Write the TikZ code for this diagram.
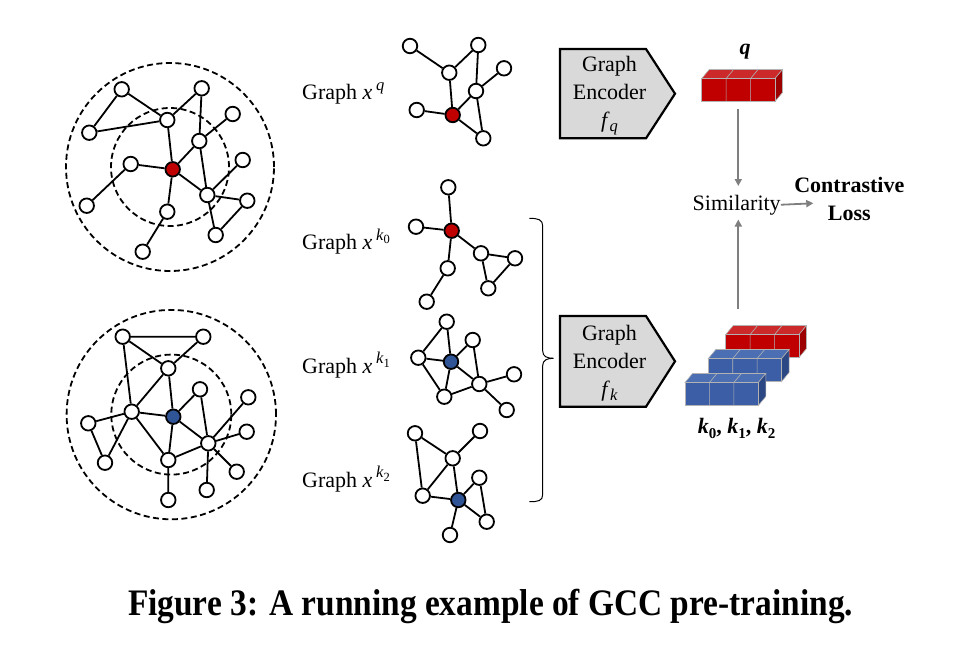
\documentclass[tikz,border=0pt]{standalone}
\usepackage{fontspec}
\setmainfont{Liberation Serif}
\usetikzlibrary{arrows.meta}
\definecolor{nred}{HTML}{C00000}
\definecolor{nblue}{HTML}{2F5597}
\definecolor{rfront}{HTML}{C00000}
\definecolor{rtop}{HTML}{CC2A2A}
\definecolor{rside}{HTML}{9C0000}
\definecolor{bfront}{HTML}{3B5EA6}
\definecolor{btop}{HTML}{4C6FB3}
\definecolor{bside}{HTML}{2C4884}
\definecolor{encgray}{HTML}{D9D9D9}
\definecolor{arrgray}{HTML}{7F7F7F}
\newcommand{\vecbar}[5]{%
  \begin{scope}[shift={(#1,#2)}]
    \filldraw[fill=#4, draw=black!30, line width=0.6pt] (0,0) -- (7.5,-9) -- (80.8,-9) -- (73.3,0) -- cycle;
    \filldraw[fill=#5, draw=black!30, line width=0.6pt] (73.3,0) -- (80.8,-9) -- (80.8,14) -- (73.3,23) -- cycle;
    \filldraw[fill=#3, draw=black!30, line width=0.6pt] (0,0) rectangle (73.3,23);
    \draw[black!30, line width=0.6pt] (24.43,23) -- (24.43,0) -- (31.93,-9)
      (48.87,23) -- (48.87,0) -- (56.37,-9);
  \end{scope}}
\newcommand{\supsz}{\fontsize{16.5}{16.5}\selectfont}
\newcommand{\subsz}{\fontsize{12.5}{12.5}\selectfont}
\newcommand{\gx}[1]{\textit{x}\,\raisebox{0.42em}{\supsz #1}}
\newcommand{\ksub}[1]{\textit{k}\raisebox{-0.22em}{\subsz #1}}
\newcommand{\fsub}[1]{\textit{f}\raisebox{-0.18em}{\supsz\textit{#1}}}
\newcommand{\bk}[1]{\textit{k}\raisebox{-0.25em}{\fontsize{15}{15}\selectfont #1}}
\begin{document}
\begin{tikzpicture}[x=1pt,y=-1pt,
  gn/.style={circle, draw=black, fill=white, line width=1.8pt, minimum size=14.5pt, inner sep=0pt},
  rn/.style={gn, fill=nred},
  bn/.style={gn, fill=nblue},
  ed/.style={line width=1.8pt},
  ring/.style={line width=1.8pt, dash pattern=on 6pt off 3.5pt},
  enc/.style={fill=encgray, draw=black, line width=2.2pt, line join=miter},
  lbl/.style={font=\fontsize{22}{29}\selectfont, inner sep=0pt},
  enctext/.style={font=\fontsize{22}{28}\selectfont, inner sep=0pt, align=center},
  garr/.style={draw=arrgray, line width=1.8pt, -{Triangle[length=7pt,width=7pt]}}
  ]
\useasboundingbox (0,0) rectangle (955,653);

% ---------- big graph 1 ----------
\draw[ring] (170,167) circle[radius=104pt];
\draw[ring] (170,167) circle[radius=59pt];
\node[gn] (a1) at (121.7,89.3) {};
\node[gn] (a2) at (201.7,88.3) {};
\node[gn] (a3) at (89.3,132.7) {};
\node[gn] (a4) at (167.3,120) {};
\node[gn] (a5) at (232.7,114) {};
\node[gn] (a6) at (199.3,141) {};
\node[gn] (a7) at (130.7,164) {};
\node[rn] (ar) at (172.7,169.3) {};
\node[gn] (a8) at (242.7,160) {};
\node[gn] (a9) at (207.3,195) {};
\node[gn] (a10) at (86.7,205.7) {};
\node[gn] (a11) at (167.3,211.7) {};
\node[gn] (a12) at (247.3,200.7) {};
\node[gn] (a13) at (215.7,235) {};
\node[gn] (a14) at (142.7,251.7) {};
\draw[ed] (a1)--(a3) (a1)--(a4) (a3)--(a4) (a4)--(a2) (a2)--(a6) (a4)--(ar)
  (a6)--(a5) (ar)--(a6) (ar)--(a7) (a7)--(a10) (ar)--(a9) (a6)--(a9)
  (a9)--(a8) (a9)--(a12) (a9)--(a13) (a12)--(a13) (ar)--(a11) (a11)--(a14);

% ---------- big graph 2 ----------
\draw[ring] (171.3,414.6) circle[radius=104.7pt];
\draw[ring] (171.3,414.6) circle[radius=60pt];
\node[gn] (b1) at (122.7,336.7) {};
\node[gn] (b2) at (203.3,336.7) {};
\node[gn] (b3) at (168.3,368.3) {};
\node[gn] (b4) at (200,389.3) {};
\node[gn] (b5) at (248.3,397.3) {};
\node[gn] (b6) at (131.7,411.7) {};
\node[bn] (bb) at (173.3,416.7) {};
\node[gn] (b7) at (88.3,423.3) {};
\node[gn] (b8) at (246.7,431.7) {};
\node[gn] (b9) at (208.3,443.3) {};
\node[gn] (b10) at (105,462.7) {};
\node[gn] (b11) at (168.3,460) {};
\node[gn] (b12) at (236.7,471.7) {};
\node[gn] (b13) at (206.7,490) {};
\node[gn] (b14) at (168.3,500) {};
\draw[ed] (b1)--(b2) (b1)--(b3) (b2)--(b3) (b1)--(b6) (b3)--(b6) (b3)--(bb)
  (b6)--(b7) (b7)--(b10) (b6)--(b10) (b6)--(bb) (b6)--(b11) (bb)--(b4)
  (bb)--(b11) (bb)--(b9) (b4)--(b9) (b9)--(b5) (b9)--(b8) (b9)--(b12)
  (b9)--(b13) (b11)--(b9) (b11)--(b14);

% ---------- graph x^q ----------
\node[gn] (q1) at (410,46) {};
\node[gn] (q2) at (478.3,45) {};
\node[gn] (q3) at (449.3,72.7) {};
\node[gn] (q4) at (504,68.3) {};
\node[gn] (q5) at (476,91) {};
\node[gn] (q6) at (416.7,110) {};
\node[rn] (qr) at (452.7,115) {};
\node[gn] (q7) at (483.3,138.3) {};
\draw[ed] (q1)--(q3) (q2)--(q3) (q2)--(q5) (q4)--(q5) (q3)--(qr) (q5)--(qr)
  (q6)--(qr) (qr)--(q7) (q5)--(q7);

% ---------- graph x^k0 ----------
\node[gn] (c1) at (448.3,187.3) {};
\node[gn] (c2) at (416,226.7) {};
\node[rn] (cr) at (451.7,230.7) {};
\node[gn] (c3) at (481,253.3) {};
\node[gn] (c4) at (515,258.3) {};
\node[gn] (c5) at (447.7,268.3) {};
\node[gn] (c6) at (488.3,288.3) {};
\node[gn] (c7) at (426.7,301.7) {};
\draw[ed] (c1)--(cr) (c2)--(cr) (cr)--(c3) (cr)--(c5) (c3)--(c4) (c3)--(c6)
  (c4)--(c6) (c5)--(c7);

% ---------- graph x^k1 ----------
\node[gn] (d1) at (446.7,321.7) {};
\node[gn] (d2) at (472.7,340) {};
\node[gn] (d3) at (418.3,357.7) {};
\node[bn] (db) at (451,361.7) {};
\node[gn] (d4) at (514,374.3) {};
\node[gn] (d5) at (479.3,384) {};
\node[gn] (d6) at (444.3,396.7) {};
\node[gn] (d7) at (506.7,410) {};
\draw[ed] (d1)--(d3) (d1)--(db) (d3)--(db) (d3)--(d6) (db)--(d6) (db)--(d5)
  (db)--(d2) (d2)--(d5) (d6)--(d5) (d5)--(d4) (d5)--(d7);

% ---------- graph x^k2 ----------
\node[gn] (e1) at (415,433.3) {};
\node[gn] (e2) at (480,431) {};
\node[gn] (e3) at (452.7,458.3) {};
\node[gn] (e4) at (479.3,477.7) {};
\node[gn] (e5) at (422.7,495.7) {};
\node[bn] (eb) at (458.3,500) {};
\node[gn] (e6) at (486.7,521.7) {};
\node[gn] (e7) at (450,535) {};
\draw[ed] (e1)--(e3) (e1)--(e5) (e3)--(e2) (e3)--(e5) (e3)--(eb) (e5)--(eb)
  (eb)--(e4) (e4)--(e6) (eb)--(e6) (eb)--(e7);

% ---------- graph labels ----------
\node[lbl, anchor=base west] (lq) at (302,99.3) {Graph \gx{\textit{q}}};
\node[lbl, anchor=base west] (lk0) at (302,249.3) {Graph \gx{\ksub{0}}};
\node[lbl, anchor=base west] (lk1) at (302,373) {Graph \gx{\ksub{1}}};
\node[lbl, anchor=base west] (lk2) at (302,487) {Graph \gx{\ksub{2}}};

% ---------- brace ----------
\draw[line width=1pt] (529.3,218.3) .. controls (538,218.3) and (542.7,219.5) .. (542.7,226)
  -- (542.7,351) .. controls (542.7,356.5) and (547,358.3) .. (553.3,358.3);
\draw[line width=1pt] (553.3,358.3) .. controls (547,358.3) and (542.7,360.1) .. (542.7,365.6)
  -- (542.7,494.5) .. controls (542.7,501) and (538,501.7) .. (529.3,501.7);

% ---------- encoders ----------
\draw[enc] (560,49) -- (646,49) -- (675,93.7) -- (646,138.3) -- (560,138.3) -- cycle;
\node[enctext] (encq) at (609.5,96) {Graph\\Encoder\\\fsub{q}};
\draw[enc] (560,316) -- (646,316) -- (675,361.3) -- (646,406.7) -- (560,406.7) -- cycle;
\node[enctext] (enck) at (609.5,363.5) {Graph\\Encoder\\\fsub{k}};

% ---------- embedding bars ----------
\vecbar{701.7}{78.5}{rfront}{rtop}{rside}
\vecbar{725.7}{334.5}{rfront}{rtop}{rside}
\vecbar{708.3}{358.5}{bfront}{btop}{bside}
\vecbar{685}{382.5}{bfront}{btop}{bside}
\node[lbl] (qlab) at (745,51.7) {\bfseries\itshape q};
\node[lbl] (klab) at (736.7,428.3) {\bfseries\bk{0}, \bk{1}, \bk{2}};

% ---------- similarity ----------
\node[lbl, anchor=base] (sim) at (736.7,210) {Similarity};
\node[lbl, align=center, font=\bfseries\fontsize{22}{28}\selectfont] (loss) at (849.3,198.5) {Contrastive\\Loss};
\coordinate (qbot) at (738.3,108.5);
\coordinate (simtop) at (738.3,186);
\coordinate (kbot) at (738.3,309.3);
\coordinate (simbot) at (738.3,219.5);
\coordinate (lossin) at (813.3,203.3);
\draw[garr] (qbot) -- (simtop);
\draw[garr] (kbot) -- (simbot);
\draw[garr] (sim.east) -- (lossin);

% ---------- caption ----------
\node[anchor=base, inner sep=0pt] (cap) at (490.5,615) {\scalebox{1}[1.12]{\resizebox{725pt}{!}{\bfseries\fontsize{30}{36}\selectfont Figure 3: A running example of GCC pre-training.}}};
\end{tikzpicture}
\end{document}
